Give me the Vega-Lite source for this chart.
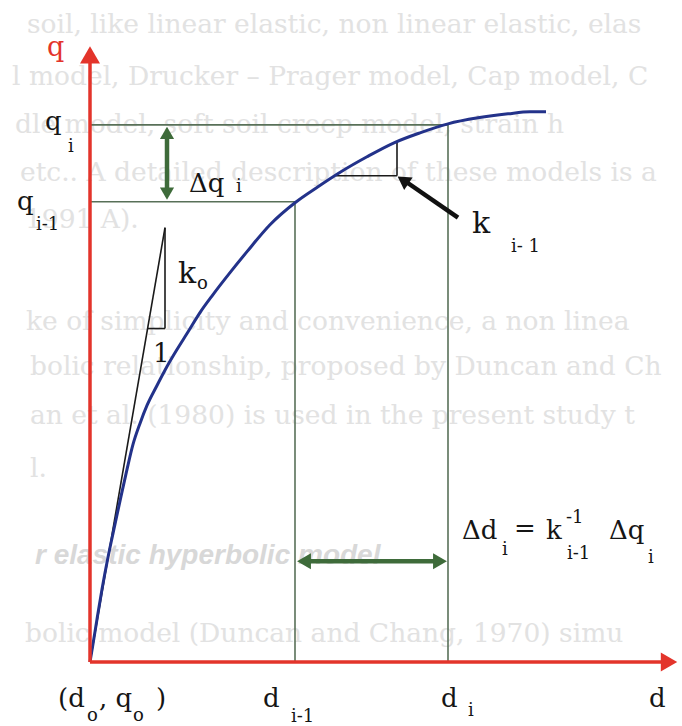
{
  "$schema": "https://vega.github.io/schema/vega-lite/v6.json",
  "width": 682,
  "height": 726,
  "autosize": {"type": "fit", "contains": "padding"},
  "padding": 0,
  "background": "white",
  "config": {"view": {"stroke": null}},
  "datasets": {
    "prose": [
      {"d": -63, "q": 638, "txt": "soil, like linear elastic, non linear elastic, elas"},
      {"d": -78, "q": 586, "txt": "l model, Drucker – Prager model, Cap model, C"},
      {"d": -75, "q": 538, "txt": "dle model, soft soil creep model, strain h"},
      {"d": -70, "q": 490, "txt": "etc.. A detailed description of these models is a"},
      {"d": -65, "q": 443, "txt": "1991 A)."},
      {"d": -64, "q": 341, "txt": "ke of simplicity and convenience, a non linea"},
      {"d": -60, "q": 295, "txt": "bolic relationship, proposed by Duncan and Ch"},
      {"d": -60, "q": 246, "txt": "an et al. (1980) is used in the present study t"},
      {"d": -60, "q": 193, "txt": "l."},
      {"d": -65, "q": 28, "txt": "bolic model (Duncan and Chang, 1970) simu"}
    ],
    "curve": [
      {"d": 0, "q": 0}, {"d": 3, "q": 18}, {"d": 7, "q": 43}, {"d": 12, "q": 73},
      {"d": 18, "q": 105}, {"d": 25, "q": 138}, {"d": 31, "q": 166}, {"d": 37, "q": 193},
      {"d": 43, "q": 218}, {"d": 50, "q": 239}, {"d": 57, "q": 257}, {"d": 67, "q": 277},
      {"d": 77, "q": 296}, {"d": 87, "q": 313}, {"d": 97, "q": 329}, {"d": 110, "q": 350},
      {"d": 123, "q": 368}, {"d": 140, "q": 390}, {"d": 157, "q": 411}, {"d": 180, "q": 438},
      {"d": 205, "q": 460}, {"d": 228, "q": 476}, {"d": 251, "q": 491}, {"d": 277, "q": 506},
      {"d": 304, "q": 520}, {"d": 330, "q": 530}, {"d": 358, "q": 539}, {"d": 388, "q": 545},
      {"d": 418, "q": 549}, {"d": 440, "q": 551}, {"d": 456, "q": 551}
    ]
  },
  "encoding": {
    "x": {"field": "d", "type": "quantitative", "scale": {"domain": [-90, 592], "nice": false, "zero": false}, "axis": null},
    "y": {"field": "q", "type": "quantitative", "scale": {"domain": [-63, 663], "nice": false, "zero": false}, "axis": null}
  },
  "layer": [
    {
      "data": {"name": "prose"},
      "mark": {"type": "text", "align": "left", "baseline": "middle", "font": "DejaVu Serif", "fontSize": 26.5, "color": "#e2e2e2", "clip": true},
      "encoding": {"text": {"field": "txt"}}
    },
    {
      "data": {"values": [{"d": -55, "q": 106, "txt": "r elastic hyperbolic model"}]},
      "mark": {"type": "text", "align": "left", "baseline": "middle", "font": "Liberation Sans", "fontStyle": "italic", "fontWeight": "bold", "fontSize": 28, "color": "#d8d8d8", "clip": true},
      "encoding": {"text": {"field": "txt"}}
    },
    {
      "data": {"values": [
        {"d": 0, "q": 538, "d2": 358, "q2": 538},
        {"d": 0, "q": 461, "d2": 205, "q2": 461},
        {"d": 205, "q": 461, "d2": 205, "q2": 0},
        {"d": 358, "q": 538, "d2": 358, "q2": 0}
      ]},
      "mark": {"type": "rule", "color": "#587058", "strokeWidth": 1.6},
      "encoding": {"x2": {"field": "d2"}, "y2": {"field": "q2"}}
    },
    {
      "data": {"values": [
        {"d": 0, "q": 0, "d2": 75, "q2": 435},
        {"d": 75, "q": 435, "d2": 75, "q2": 334},
        {"d": 57.6, "q": 334, "d2": 75, "q2": 334},
        {"d": 246, "q": 487, "d2": 307, "q2": 487},
        {"d": 307, "q": 487, "d2": 307, "q2": 521}
      ]},
      "mark": {"type": "rule", "color": "#1a1a1a", "strokeWidth": 1.6},
      "encoding": {"x2": {"field": "d2"}, "y2": {"field": "q2"}}
    },
    {
      "data": {"name": "curve"},
      "mark": {"type": "line", "color": "#23328a", "strokeWidth": 3, "interpolate": "monotone"}
    },
    {
      "data": {"values": [
        {"d": 0, "q": 0, "d2": 0, "q2": 600},
        {"d": 0, "q": 0, "d2": 572, "q2": 0}
      ]},
      "mark": {"type": "rule", "color": "#e3342b", "strokeWidth": 3.5},
      "encoding": {"x2": {"field": "d2"}, "y2": {"field": "q2"}}
    },
    {
      "data": {"values": [{"d": 0, "q": 608}]},
      "mark": {"type": "point", "shape": "triangle-up", "size": 400, "filled": true, "opacity": 1, "color": "#e3342b"}
    },
    {
      "data": {"values": [{"d": 579, "q": 0}]},
      "mark": {"type": "point", "shape": "triangle-right", "size": 360, "filled": true, "opacity": 1, "color": "#e3342b"}
    },
    {
      "data": {"values": [
        {"d": 77, "q": 469, "d2": 77, "q2": 530},
        {"d": 214, "q": 101, "d2": 350, "q2": 101}
      ]},
      "mark": {"type": "rule", "color": "#3e6b3a", "strokeWidth": 4.5},
      "encoding": {"x2": {"field": "d2"}, "y2": {"field": "q2"}}
    },
    {
      "data": {"values": [{"d": 77, "q": 530}]},
      "mark": {"type": "point", "shape": "triangle-up", "size": 200, "filled": true, "opacity": 1, "color": "#3e6b3a"}
    },
    {
      "data": {"values": [{"d": 77, "q": 469}]},
      "mark": {"type": "point", "shape": "triangle-down", "size": 200, "filled": true, "opacity": 1, "color": "#3e6b3a"}
    },
    {
      "data": {"values": [{"d": 214, "q": 101}]},
      "mark": {"type": "point", "shape": "triangle-left", "size": 256, "filled": true, "opacity": 1, "color": "#3e6b3a"}
    },
    {
      "data": {"values": [{"d": 350, "q": 101}]},
      "mark": {"type": "point", "shape": "triangle-right", "size": 256, "filled": true, "opacity": 1, "color": "#3e6b3a"}
    },
    {
      "data": {"values": [{"d": 368, "q": 445, "d2": 316, "q2": 481}]},
      "mark": {"type": "rule", "color": "#111111", "strokeWidth": 4.5},
      "encoding": {"x2": {"field": "d2"}, "y2": {"field": "q2"}}
    },
    {
      "data": {"values": [{"d": 313, "q": 482.6}]},
      "mark": {"type": "point", "shape": "triangle-up", "size": 225, "angle": 304, "filled": true, "opacity": 1, "color": "#111111"}
    },
    {
      "data": {"values": [{"d": -43, "q": 607, "txt": "q"}]},
      "mark": {"type": "text", "align": "left", "baseline": "alphabetic", "font": "DejaVu Serif", "fontSize": 27, "color": "#e3342b"},
      "encoding": {"text": {"field": "txt"}}
    },
    {
      "data": {"values": [
        {"d": -45, "q": 533, "txt": "q"},
        {"d": -73, "q": 453, "txt": "q"},
        {"d": 99, "q": 471, "txt": "Δq"},
        {"d": 63, "q": 301, "txt": "1"},
        {"d": -32, "q": -45, "txt": "(d"},
        {"d": 9, "q": -45, "txt": ", q"},
        {"d": 66, "q": -45, "txt": ")"},
        {"d": 173, "q": -45, "txt": "d"},
        {"d": 351, "q": -45, "txt": "d"},
        {"d": 559, "q": -45, "txt": "d"},
        {"d": 372, "q": 123, "txt": "Δd"},
        {"d": 424, "q": 125, "txt": "="},
        {"d": 456, "q": 123, "txt": "k"},
        {"d": 519, "q": 123, "txt": "Δq"}
      ]},
      "mark": {"type": "text", "align": "left", "baseline": "alphabetic", "font": "DejaVu Serif", "fontSize": 26, "color": "#151515"},
      "encoding": {"text": {"field": "txt"}}
    },
    {
      "data": {"values": [
        {"d": 88, "q": 380, "txt": "k"},
        {"d": 382, "q": 430, "txt": "k"}
      ]},
      "mark": {"type": "text", "align": "left", "baseline": "alphabetic", "font": "DejaVu Serif", "fontSize": 30, "color": "#151515"},
      "encoding": {"text": {"field": "txt"}}
    },
    {
      "data": {"values": [
        {"d": -22, "q": 511, "txt": "i"},
        {"d": -54, "q": 433, "txt": "i-1"},
        {"d": 146, "q": 471, "txt": "i"},
        {"d": 107, "q": 374, "txt": "o"},
        {"d": 421, "q": 411, "txt": "i- 1"},
        {"d": -3, "q": -59, "txt": "o"},
        {"d": 43, "q": -59, "txt": "o"},
        {"d": 201, "q": -60, "txt": "i-1"},
        {"d": 378, "q": -54, "txt": "i"},
        {"d": 412, "q": 107, "txt": "i"},
        {"d": 476, "q": 139, "txt": "-1"},
        {"d": 477, "q": 103, "txt": "i-1"},
        {"d": 558, "q": 99, "txt": "i"}
      ]},
      "mark": {"type": "text", "align": "left", "baseline": "alphabetic", "font": "DejaVu Serif", "fontSize": 18, "color": "#151515"},
      "encoding": {"text": {"field": "txt"}}
    }
  ]
}
